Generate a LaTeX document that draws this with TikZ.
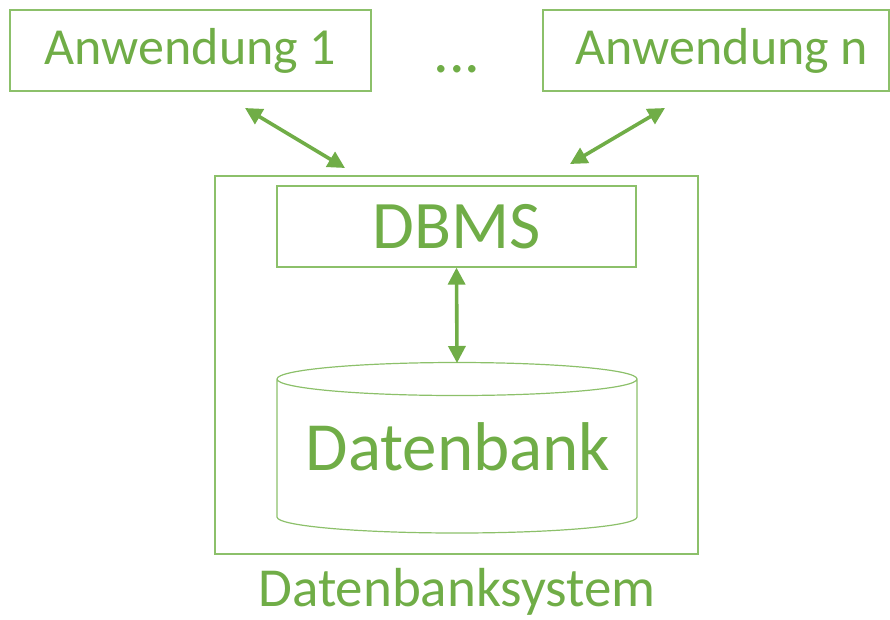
\documentclass[tikz,border=0pt]{standalone}
\usepackage{fontspec}
\setmainfont{Carlito}
\usetikzlibrary{arrows.meta}
\definecolor{dbgreen}{HTML}{70AD47}
\definecolor{boxgreen}{HTML}{8CC06A}
\tikzset{
  frame/.style={draw=boxgreen, line width=1.2pt, inner sep=0pt},
  label/.style={text=dbgreen, inner sep=0pt},
  link/.style={draw=dbgreen, line width=3.6pt,
    {Triangle[length=17pt,width=17pt]}-{Triangle[length=17pt,width=17pt]}},
}
\begin{document}
\begin{tikzpicture}[x=1pt,y=-1pt]
  \useasboundingbox (0,0) rectangle (890,619);
  % application boxes
  \node[frame, minimum width=361pt, minimum height=81pt] (app1) at (190.5,50.5) {};
  \node[label, font=\fontsize{52}{60}\selectfont] at (app1) {Anwendung 1};
  \node[frame, minimum width=346pt, minimum height=81pt] (appn) at (716,50.5) {};
  \node[label, font=\fontsize{52}{60}\selectfont] at ([xshift=6pt]appn.center) {Anwendung n};
  \node[label, font=\fontsize{62}{70}\selectfont, anchor=base] (dots) at (457,72) {...};
  % database system frame
  \node[frame, minimum width=483pt, minimum height=378pt] (sys) at (456.5,365) {};
  \node[frame, minimum width=359pt, minimum height=81pt] (dbms) at (456.5,226.5) {};
  \node[label, font=\fontsize{68}{80}\selectfont] at (dbms) {DBMS};
  % cylinder for the database
  \coordinate (dbtop) at (457,363);
  \draw[boxgreen, line width=1.2pt]
    (277,379) arc[start angle=180, end angle=-180, x radius=180pt, y radius=16.5pt]
    (277,379) -- (277,517) arc[start angle=180, end angle=360, x radius=180pt, y radius=16pt] -- (637,379);
  \node[label, font=\fontsize{69}{80}\selectfont] (db) at (458,447) {Datenbank};
  \node[label, font=\fontsize{55}{66}\selectfont, anchor=base] (sysname) at (457,606) {Datenbanksystem};
  % connectors
  \coordinate (a1) at (245,108);
  \coordinate (s1) at (345,168);
  \coordinate (an) at (665,108);
  \coordinate (sn) at (570,164);
  \draw[link] (a1) -- (s1);
  \draw[link] (an) -- (sn);
  \draw[link] (dbms.south) -- (dbtop);
\end{tikzpicture}
\end{document}
